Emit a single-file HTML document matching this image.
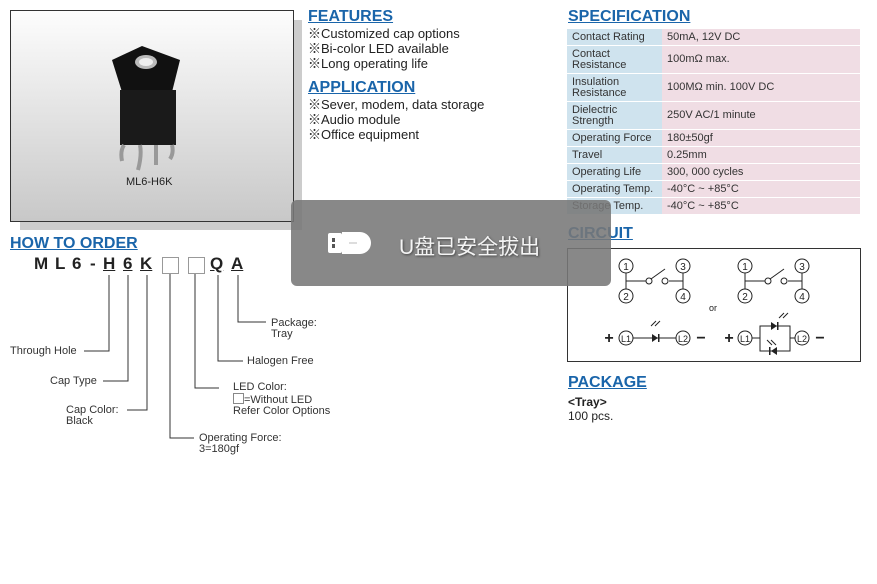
<!DOCTYPE html>
<html><head><meta charset="utf-8"><style>
body{margin:0;width:877px;height:584px;background:#fff;position:relative;overflow:hidden;font-family:"Liberation Sans","Noto Sans CJK SC",sans-serif;color:#222}
.a{position:absolute;white-space:nowrap}
h2{position:absolute;margin:0;font-size:16px;font-weight:bold;color:#1a65aa;text-decoration:underline;text-decoration-thickness:1px}
.f{font-size:13px;line-height:15px}
.s{font-size:11px;line-height:11px;color:#333}
table{position:absolute;left:567px;top:28px;width:293px;border-collapse:separate;border-spacing:0 1px;font-size:11px;color:#333}
td{padding:0 5px;line-height:11px}
td.l{background:#cfe3ee;width:85px}
td.v{background:#f0dde4}
</style></head><body>
<div class="a" style="left:10px;top:10px;width:282px;height:210px;border:1px solid #333;background:linear-gradient(#fdfdfd,#c8c8c8)"></div>
<div class="a" style="left:294px;top:20px;width:8px;height:210px;background:#ccc"></div>
<div class="a" style="left:20px;top:222px;width:282px;height:8px;background:#ccc"></div>
<svg class="a" style="left:100px;top:40px" width="100" height="140">
<polygon points="12,20 42,6 80,20 72,52 22,52" fill="#111"/>
<ellipse cx="46" cy="22" rx="11" ry="7" fill="#bbb"/><ellipse cx="46" cy="22" rx="7" ry="4" fill="#eee"/>
<rect x="20" y="50" width="56" height="55" fill="#1a1a1a"/>
<path d="M24 105 q-4 6 -2 16 M40 105 q2 10 -2 25 M56 105 v20 M72 105 q2 8 -2 14" stroke="#999" stroke-width="4" fill="none"/>
</svg>
<div class="a" style="left:126px;top:176px;font-size:11px">ML6-H6K</div>

<h2 style="left:308px;top:8px">FEATURES</h2>
<div class="a f" style="left:308px;top:26px">※Customized cap options<br>※Bi-color LED available<br>※Long operating life</div>
<h2 style="left:308px;top:79px">APPLICATION</h2>
<div class="a f" style="left:308px;top:97px">※Sever, modem, data storage<br>※Audio module<br>※Office equipment</div>

<h2 style="left:568px;top:8px">SPECIFICATION</h2>
<table>
<tr style="height:16px"><td class="l">Contact Rating</td><td class="v">50mA, 12V DC</td></tr>
<tr style="height:27px"><td class="l">Contact<br>Resistance</td><td class="v">100mΩ max.</td></tr>
<tr style="height:27px"><td class="l">Insulation<br>Resistance</td><td class="v">100MΩ min. 100V DC</td></tr>
<tr style="height:27px"><td class="l">Dielectric<br>Strength</td><td class="v">250V AC/1 minute</td></tr>
<tr style="height:16px"><td class="l">Operating Force</td><td class="v">180±50gf</td></tr>
<tr style="height:16px"><td class="l">Travel</td><td class="v">0.25mm</td></tr>
<tr style="height:16px"><td class="l">Operating Life</td><td class="v">300, 000 cycles</td></tr>
<tr style="height:16px"><td class="l">Operating Temp.</td><td class="v">-40°C ~ +85°C</td></tr>
<tr style="height:16px"><td class="l">Storage Temp.</td><td class="v">-40°C ~ +85°C</td></tr>
</table>

<h2 style="left:568px;top:225px">CIRCUIT</h2>
<svg class="a" style="left:567px;top:248px" width="294" height="115" font-family="Liberation Sans" font-size="10">
<rect x="0.5" y="0.5" width="293" height="113" fill="none" stroke="#333"/>
<g fill="none" stroke="#222">
<circle cx="59" cy="18" r="7"/><circle cx="59" cy="48" r="7"/><circle cx="116" cy="18" r="7"/><circle cx="116" cy="48" r="7"/>
<path d="M59 25v16M59 33h20M116 25v16M116 33h-14"/><circle cx="82" cy="33" r="3"/><circle cx="98" cy="33" r="3"/><path d="M84 31l14-10"/>
<circle cx="178" cy="18" r="7"/><circle cx="178" cy="48" r="7"/><circle cx="235" cy="18" r="7"/><circle cx="235" cy="48" r="7"/>
<path d="M178 25v16M178 33h20M235 25v16M235 33h-14"/><circle cx="201" cy="33" r="3"/><circle cx="217" cy="33" r="3"/><path d="M203 31l14-10"/>
<circle cx="59" cy="90" r="7"/><circle cx="116" cy="90" r="7"/><path d="M66 90h43"/>
<circle cx="178" cy="90" r="7"/><circle cx="235" cy="90" r="7"/><path d="M185 90h8M193 78v25h30v-25zM223 90h5"/>
<path d="M84 78l5-5M88 78l5-5M212 70l5-5M216 70l5-5M205 97l-5-5M209 97l-5-5"/>
</g>
<g fill="#222"><polygon points="85,86 85,94 91,90"/><rect x="91" y="86" width="1.5" height="8"/>
<polygon points="204,74 204,82 210,78"/><rect x="210" y="74" width="1.5" height="8"/>
<polygon points="210,99 210,107 204,103"/><rect x="202" y="99" width="1.5" height="8"/></g>
<g text-anchor="middle" fill="#222"><text x="59" y="22">1</text><text x="59" y="52">2</text><text x="116" y="22">3</text><text x="116" y="52">4</text>
<text x="178" y="22">1</text><text x="178" y="52">2</text><text x="235" y="22">3</text><text x="235" y="52">4</text>
<text x="146" y="63" font-size="9">or</text>
<text x="59" y="94" font-size="9">L1</text><text x="116" y="94" font-size="9">L2</text><text x="178" y="94" font-size="9">L1</text><text x="235" y="94" font-size="9">L2</text>
<text x="42" y="95" font-size="16" font-weight="bold">+</text><text x="162" y="95" font-size="16" font-weight="bold">+</text>
<text x="134" y="95" font-size="16" font-weight="bold">−</text><text x="253" y="95" font-size="16" font-weight="bold">−</text></g>
</svg>
<h2 style="left:568px;top:374px">PACKAGE</h2>
<div class="a" style="left:568px;top:395px;font-size:12px;line-height:14px"><b>&lt;Tray&gt;</b><br>100 pcs.</div>

<h2 style="left:10px;top:235px">HOW TO ORDER</h2>
<div class="a" style="left:34px;top:254px;font-size:17px;font-weight:bold;letter-spacing:0px;color:#222">M</div>
<div class="a" style="left:55px;top:254px;font-size:17px;font-weight:bold">L</div>
<div class="a" style="left:72px;top:254px;font-size:17px;font-weight:bold">6</div>
<div class="a" style="left:90px;top:254px;font-size:17px;font-weight:bold">-</div>
<div class="a" style="left:103px;top:254px;font-size:17px;font-weight:bold;text-decoration:underline">H</div>
<div class="a" style="left:123px;top:254px;font-size:17px;font-weight:bold;text-decoration:underline">6</div>
<div class="a" style="left:140px;top:254px;font-size:17px;font-weight:bold;text-decoration:underline">K</div>
<div class="a" style="left:162px;top:257px;width:15px;height:15px;border:1px solid #999"></div>
<div class="a" style="left:188px;top:257px;width:15px;height:15px;border:1px solid #999"></div>
<div class="a" style="left:210px;top:254px;font-size:17px;font-weight:bold;text-decoration:underline">Q</div>
<div class="a" style="left:231px;top:254px;font-size:17px;font-weight:bold;text-decoration:underline">A</div>
<svg class="a" style="left:0;top:0" width="400" height="470"><g fill="none" stroke="#333">
<path d="M109 275v76h-25M128 275v106h-25M147 275v135h-20M170 274v164h24M195 274v114h24M218 275v86h25M238 275v47h28"/></g></svg>
<div class="a s" style="left:10px;top:346px">Through Hole</div>
<div class="a s" style="left:50px;top:376px">Cap Type</div>
<div class="a s" style="left:66px;top:405px">Cap Color:<br>Black</div>
<div class="a s" style="left:199px;top:433px">Operating Force:<br>3=180gf</div>
<div class="a s" style="left:233px;top:382px">LED Color:<br><span style="display:inline-block;width:9px;height:9px;border:1px solid #888;vertical-align:-1px"></span>=Without LED<br>Refer Color Options</div>
<div class="a s" style="left:247px;top:356px">Halogen Free</div>
<div class="a s" style="left:271px;top:318px">Package:<br>Tray</div>

<div class="a" style="left:291px;top:200px;width:320px;height:86px;border-radius:6px;background:rgba(120,120,120,0.88)"></div>
<svg class="a" style="left:328px;top:230px" width="44" height="26"><rect x="0" y="3" width="14" height="20" rx="2" fill="#fff"/><rect x="4" y="8" width="3" height="4" fill="#555"/><rect x="4" y="14" width="3" height="4" fill="#555"/><path d="M14 2h18a11 11 0 0 1 0 22h-18z" fill="#fff"/><path d="M21 13h8" stroke="#bbb"/></svg>
<div class="a" style="left:399px;top:231px;font-size:21px;color:#f4f4f4;text-shadow:1px 1px 2px #444">U盘已安全拔出</div>
</body></html>
